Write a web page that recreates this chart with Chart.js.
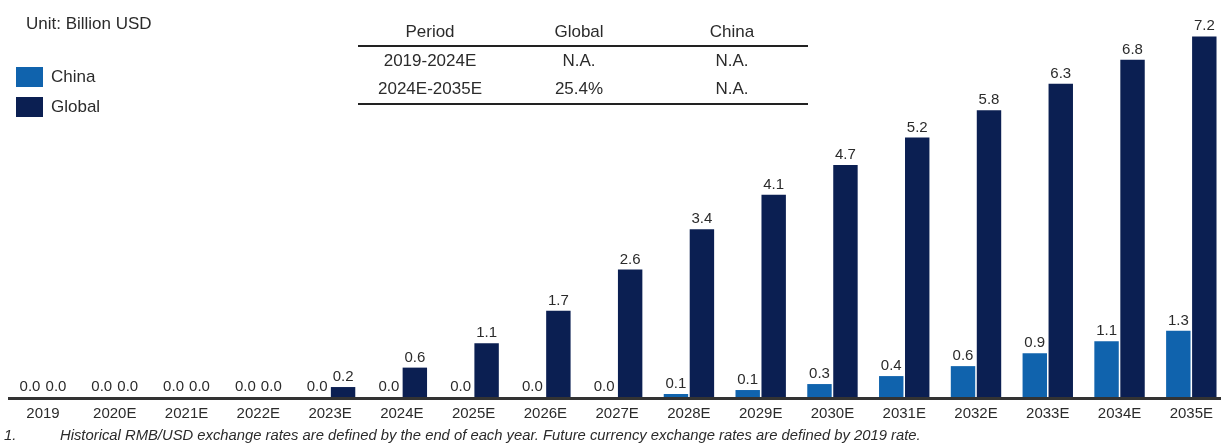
<!DOCTYPE html>
<html>
<head>
<meta charset="utf-8">
<script src="https://cdn.jsdelivr.net/npm/chart.js@4.4.1/dist/chart.umd.min.js"></script>
<style>
  html, body { margin: 0; padding: 0; background: #fff; overflow: hidden; }
  body { width: 1221px; height: 448px; position: relative; font-family: "Liberation Sans", Arial, sans-serif; color: #2b2b2b; }
  #chart { position: absolute; left: 0; top: 0; }
  .unit { position: absolute; left: 26px; top: 14px; font-size: 17px; }
  .legend { position: absolute; left: 16px; top: 67px; }
  .legend_item { display: flex; align-items: center; height: 20px; margin-bottom: 10px; font-size: 17px; }
  .legend_item span.box { width: 27px; height: 20px; margin-right: 8px; display: inline-block; }
  table.growth { position: absolute; left: 358px; top: 18px; width: 450px; border-collapse: collapse; font-size: 17px; table-layout: fixed; }
  table.growth td, table.growth th { text-align: center; padding: 0; font-weight: normal; height: 28px; }
  table.growth th { height: 27px; border-bottom: 2.5px solid #222; }
  table.growth tr.last td { border-bottom: 2.5px solid #222; }
  .note { position: absolute; left: 4px; top: 427px; font-size: 14.8px; font-style: italic; white-space: nowrap; }
  .note b { font-weight: normal; display: inline-block; width: 56px; }
</style>
</head>
<body>
<canvas id="chart" width="1221" height="448"></canvas>
<div class="unit">Unit: Billion USD</div>
<div class="legend" id="legend"></div>
<table class="growth">
  <colgroup><col style="width:144px"><col style="width:154px"><col style="width:152px"></colgroup>
  <thead><tr><th>Period</th><th>Global</th><th>China</th></tr></thead>
  <tbody id="cagr"></tbody>
</table>
<div class="note"><b>1.</b>Historical RMB/USD exchange rates are defined by the end of each year. Future currency exchange rates are defined by 2019 rate.</div>

<script>
const years = ["2019", "2020E", "2021E", "2022E", "2023E", "2024E", "2025E", "2026E", "2027E",
  "2028E", "2029E", "2030E", "2031E", "2032E", "2033E", "2034E", "2035E"];
const chinaValues = [0, 0, 0, 0, 0, 0, 0, 0, 0, 0.06, 0.14, 0.26, 0.42, 0.62, 0.88, 1.12, 1.33];
const globalValues = [0, 0, 0, 0, 0.2, 0.59, 1.08, 1.73, 2.56, 3.37, 4.06, 4.66, 5.21, 5.76, 6.29, 6.77, 7.24];

const periods = ["2019-2024E", "2024E-2035E"];
const cagrGlobal = ["N.A.", "25.4%"];
const cagrChina = ["N.A.", "N.A."];

const colorChina = "#1063ad";
const colorGlobal = "#0b1f52";
const textColor = "#2b2b2b";

// tableau CAGR
const tbody = document.getElementById("cagr");
for (let i = 0; i < periods.length; i++) {
  const tr = document.createElement("tr");
  if (i == periods.length - 1) tr.className = "last";
  [periods[i], cagrGlobal[i], cagrChina[i]].forEach((t) => {
    const td = document.createElement("td");
    td.textContent = t;
    tr.appendChild(td);
  });
  tbody.appendChild(tr);
}

// valeurs au-dessus des barres
const valueLabels = {
  id: "valueLabels",
  afterDatasetsDraw(chart) {
    const ctx = chart.ctx;
    ctx.save();
    ctx.font = "15px 'Liberation Sans', Arial, sans-serif";
    ctx.fillStyle = textColor;
    ctx.textAlign = "center";
    ctx.textBaseline = "alphabetic";
    chart.data.datasets.forEach((ds, di) => {
      chart.getDatasetMeta(di).data.forEach((bar, i) => {
        ctx.fillText(ds.data[i].toFixed(1), bar.x, bar.y - 6);
      });
    });
    ctx.restore();
  },
};

// ligne de base
const baseLine = {
  id: "baseLine",
  afterDatasetsDraw(chart) {
    const ctx = chart.ctx;
    const y = chart.scales.y.getPixelForValue(0) + 1.5;
    ctx.save();
    ctx.strokeStyle = "#333";
    ctx.lineWidth = 3;
    ctx.beginPath();
    ctx.moveTo(8, y);
    ctx.lineTo(chart.width, y);
    ctx.stroke();
    ctx.restore();
  },
};

const ctx = document.getElementById("chart").getContext("2d");
const myChart = new Chart(ctx, {
  type: "bar",
  data: {
    labels: years,
    datasets: [
      { label: "China", data: chinaValues, backgroundColor: colorChina, clip: false },
      { label: "Global", data: globalValues, backgroundColor: colorGlobal, clip: false },
    ],
  },
  options: {
    responsive: false,
    animation: false,
    categoryPercentage: 0.724,
    barPercentage: 0.94,
    layout: { padding: { left: 43, right: 29, top: 28.5, bottom: 17 } },
    scales: {
      x: {
        offset: false,
        grid: { display: false, drawTicks: false },
        border: { display: false },
        ticks: {
          autoSkip: false,
          maxRotation: 0,
          padding: 8,
          color: textColor,
          font: { family: "'Liberation Sans', Arial, sans-serif", size: 15 },
        },
      },
      y: { display: false, min: 0, max: 7.4 },
    },
    plugins: {
      legend: { display: false },
      tooltip: { enabled: false },
    },
  },
  plugins: [valueLabels, baseLine],
});

// légende
const legend = document.getElementById("legend");
myChart.data.datasets.forEach((ds) => {
  const item = document.createElement("div");
  item.className = "legend_item";
  item.innerHTML = '<span class="box" style="background:' + ds.backgroundColor + '"></span>' + ds.label;
  legend.appendChild(item);
});
</script>
</body>
</html>
